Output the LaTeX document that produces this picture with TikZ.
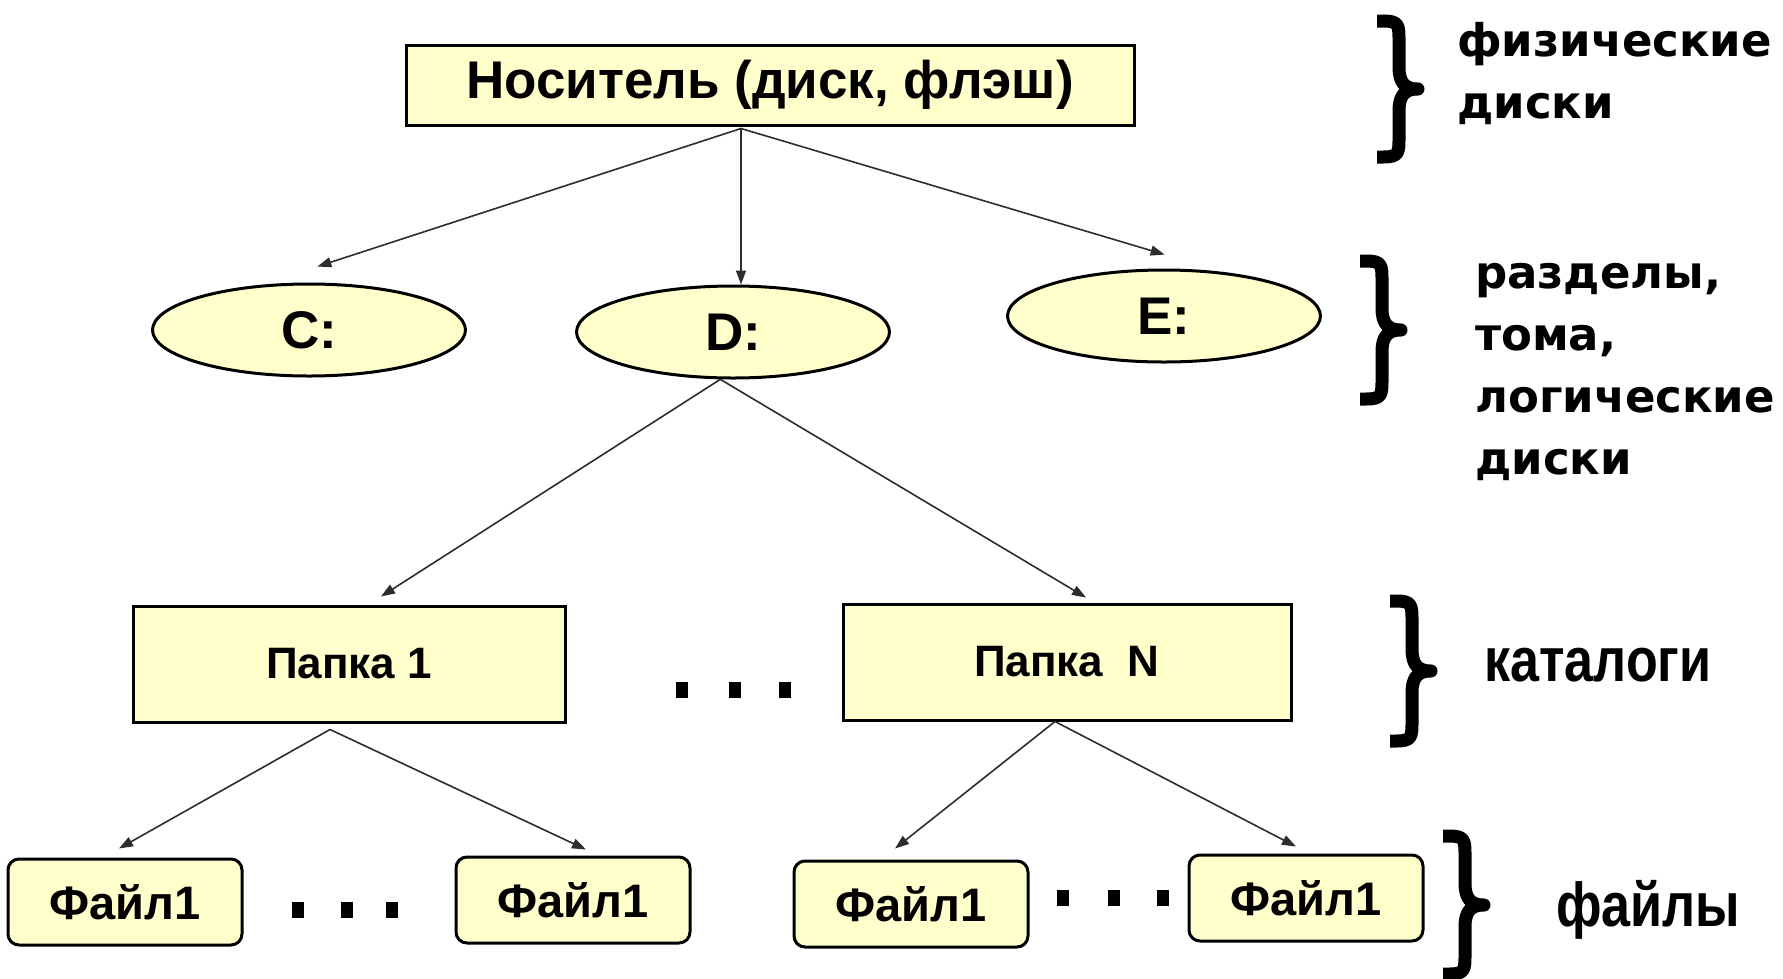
\documentclass[tikz,border=0pt]{standalone}
\usepackage{fontspec}
\setmainfont{Liberation Sans}
\newfontfamily\djv{DejaVu Sans}
\newfontfamily\narrowf[FakeStretch=0.84]{Liberation Sans}
\usetikzlibrary{shapes.geometric,arrows.meta,calc}
\definecolor{boxfill}{RGB}{255,255,204}
\definecolor{arrowgray}{RGB}{45,45,45}
% thick curly brace: left x, top y, bottom y
\newcommand\sidebrace[3]{%
  \pgfmathsetmacro\bS{#1+22}%
  \pgfmathsetmacro\bM{(#2+#3)/2}%
  \draw[bracestroke] (#1,#2+6) -- (#1+6,#2+6)
    .. controls (\bS,#2+6) and (\bS,#2+10) .. (\bS,#2+26)
    -- (\bS,\bM-22) .. controls (\bS,\bM-6) and (\bS+6,\bM) .. (#1+41,\bM)
    .. controls (\bS+6,\bM) and (\bS,\bM+6) .. (\bS,\bM+22)
    -- (\bS,#3-26) .. controls (\bS,#3-10) and (\bS,#3-6) .. (#1+6,#3-6)
    -- (#1,#3-6);}
\begin{document}
\begin{tikzpicture}[x=1pt,y=-1pt,
  box/.style={draw=black, line width=3pt, fill=boxfill, inner sep=0pt},
  ell/.style={ellipse, draw=black, line width=3pt, fill=boxfill, minimum width=313pt, minimum height=92pt, inner sep=0pt, font=\bfseries\fontsize{53}{60}\selectfont},
  filebox/.style={box, rounded corners=11pt, minimum width=234pt, minimum height=86pt, font=\bfseries\fontsize{47}{52}\selectfont},
  folder/.style={box, minimum height=116pt, font=\bfseries\fontsize{44}{50}\selectfont},
  arr/.style={draw=arrowgray, line width=1.6pt, -{Triangle[length=14pt,width=10pt]}},
  bracestroke/.style={draw=black, line width=13pt, line join=round, line cap=butt},
  sidelabel/.style={anchor=west, align=left, inner sep=0pt, font=\djv\bfseries\fontsize{45}{62}\selectfont},
  narrowlabel/.style={anchor=west, inner sep=0pt, font=\narrowf\bfseries\fontsize{62}{70}\selectfont},
  dot/.style={fill=black}]
\fill[white] (0,0) rectangle (1783,978);
\useasboundingbox (0,0) rectangle (1783,978);

% nodes
\node[box, minimum width=728pt, minimum height=80pt, font=\bfseries\fontsize{53}{60}\selectfont] (top) at (770,85) {Носитель (диск, флэш)};
\node[ell] (C) at (309,330) {C:};
\node[ell] (D) at (733,332) {D:};
\node[ell] (E) at (1164,316) {E:};
\node[folder, minimum width=432pt] (P1) at (349,664) {Папка 1};
\node[folder, minimum width=448pt] (PN) at (1067,662) {Папка\ \ N};
\node[filebox] (F1) at (125,902) {Файл1};
\node[filebox] (F2) at (573,900) {Файл1};
\node[filebox] (F3) at (911,904) {Файл1};
\node[filebox] (F4) at (1306,898) {Файл1};

% connectors
\coordinate (ts) at ($(top.south)+(-29,2)$);
\draw[arr] (ts) -- ($(C.80)+(0,-16)$);
\draw[arr] (ts) -- ($(D.north)+(8,0)$);
\draw[arr] (ts) -- ($(E.100)+(9,-14)$);
\coordinate (ds) at (D.-105);
\draw[arr] (ds) -- ($(P1.north)+(32,-8)$);
\draw[arr] (ds) -- ($(PN.north)+(19,-5)$);
\coordinate (p1s) at ($(P1.south)+(-19,6)$);
\draw[arr] (p1s) -- ($(F1.north)+(-6,-9)$);
\draw[arr] (p1s) -- ($(F2.north)+(13,-6)$);
\coordinate (pns) at ($(PN.south)+(-12,0)$);
\draw[arr] (pns) -- ($(F3.north)+(-16,-11)$);
\draw[arr] (pns) -- ($(F4.north)+(-10,-7)$);

% dots
\foreach \x in {682,735,785} \fill[dot] (\x-6,682) rectangle (\x+6,698);
\foreach \x in {298,347,392} \fill[dot] (\x-6,902) rectangle (\x+6,918);
\foreach \x in {1063,1114,1163} \fill[dot] (\x-6,890) rectangle (\x+6,906);

% braces
\sidebrace{1377}{15}{163}
\sidebrace{1360}{255}{405}
\sidebrace{1390}{595}{747}
\sidebrace{1443}{830}{980}

% side labels
\node[sidelabel] (L1) at (1457,74) {физические\\диски};
\node[sidelabel] (L2) at (1475,372) {разделы,\\тома,\\логические\\диски};
\node[narrowlabel] (L3) at (1484,665) {каталоги};
\node[narrowlabel] (L4) at (1556,910) {файлы};
\end{tikzpicture}
\end{document}
